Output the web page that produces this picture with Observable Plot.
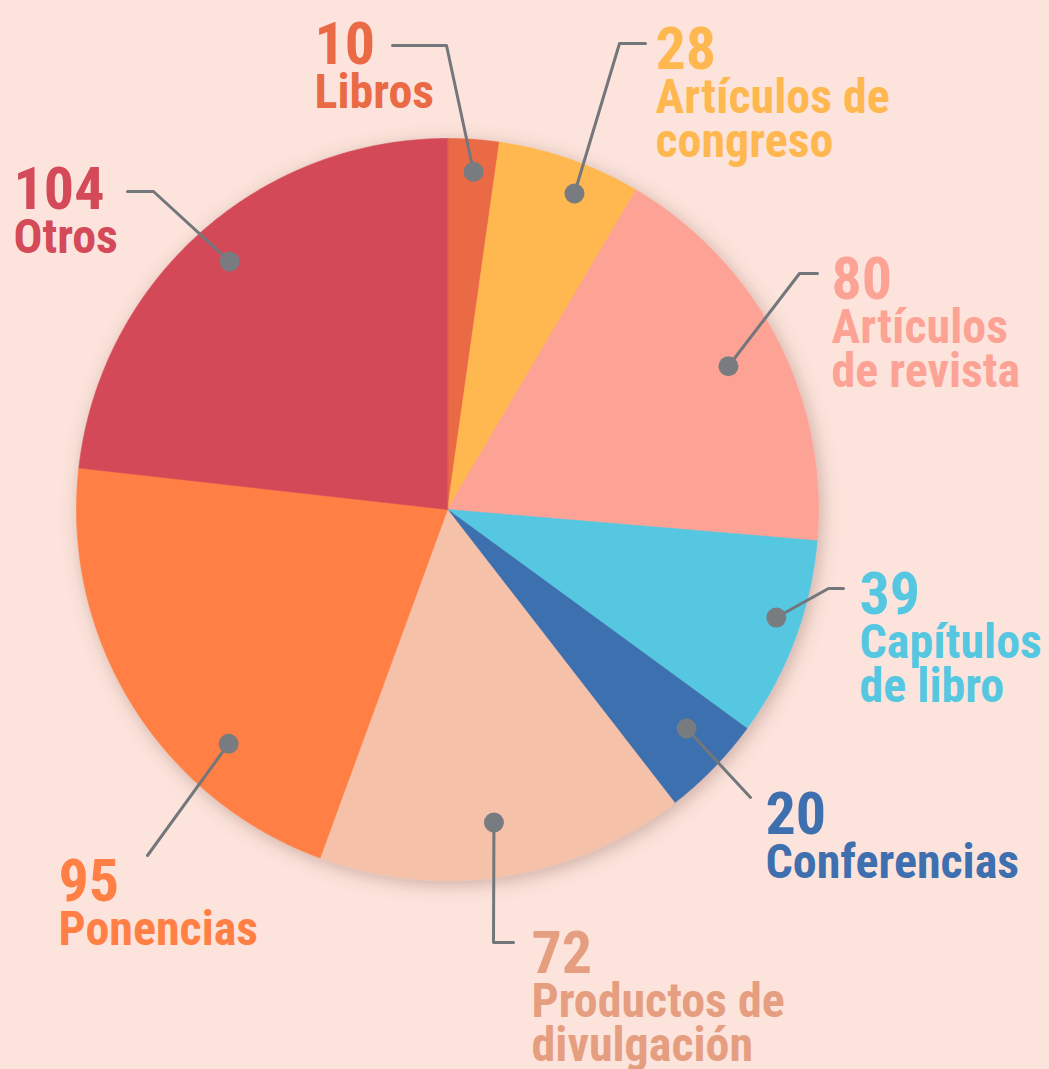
<!DOCTYPE html>
<html>
<head>
<meta charset="utf-8">
<script src="https://cdn.jsdelivr.net/npm/d3@7"></script>
<script src="https://cdn.jsdelivr.net/npm/@observablehq/plot@0.6"></script>
<style>
  html, body { margin: 0; padding: 0; background: #FCE4DC; }
  #chart { width: 1049px; height: 1069px; }
</style>
</head>
<body>
<div id="chart"></div>
<script>
// ---- data ----
const categories = ["Libros", "Artículos de congreso", "Artículos de revista", "Capítulos de libro", "Conferencias", "Productos de divulgación", "Ponencias", "Otros"];
const values = [10, 28, 80, 39, 20, 72, 95, 104];
const sliceColors = ["#E96A45", "#FFB74F", "#FDA396", "#56C7E1", "#3E6FAE", "#F6C1A9", "#FF7F45", "#D44A58"];
const labelColors = ["#E96A45", "#FFB74F", "#FDA396", "#56C7E1", "#3E6FAE", "#E59E80", "#FF7F45", "#D44A58"];
const labelLines = ["Libros", "Artículos de\ncongreso", "Artículos\nde revista", "Capítulos\nde libro", "Conferencias", "Productos de\ndivulgación", "Ponencias", "Otros"];

// ---- layout (pixels) ----
const W = 1049, H = 1069, cx = 447, cy = 509, R = 371;
// per label: text left x, number baseline, dot angle offset (deg), dot radius fraction, leader elbow/end points
const labelLayout = [
  {tx: 314, ny: 63,  dOff: 0.4,   dr: 0.913, pts: [[446, 45], [392, 45]]},
  {tx: 655, ny: 68,  dOff: 2.6,   dr: 0.918, pts: [[619, 43], [645, 43]]},
  {tx: 831, ny: 298, dOff: 0.3,   dr: 0.85,  pts: [[799, 273], [817, 273]]},
  {tx: 859, ny: 613, dOff: -2.3,  dr: 0.933, pts: [[828, 588], [843, 588]]},
  {tx: 765, ny: 833, dOff: -1.7,  dr: 0.874, pts: [[750, 797]]},
  {tx: 531, ny: 972, dOff: 0.4,   dr: 0.853, pts: [[493, 942], [513, 942]]},
  {tx: 58,  ny: 900, dOff: -15.2, dr: 0.864, pts: [[147, 855]]},
  {tx: 13,  ny: 208, dOff: 0.5,   dr: 0.89,  pts: [[153, 191], [127, 191]]}
];

const arcs = d3.pie().sort(null).value(d => d)(values);

// slice polygons
const slicePts = [];
arcs.forEach((a, i) => {
  slicePts.push({cat: categories[i], color: sliceColors[i], x: cx, y: cy});
  const n = Math.max(2, Math.ceil((a.endAngle - a.startAngle) / (Math.PI / 360)));
  for (let k = 0; k <= n; k++) {
    const t = a.startAngle + (a.endAngle - a.startAngle) * k / n;
    slicePts.push({cat: categories[i], color: sliceColors[i], x: cx + R * Math.sin(t), y: cy - R * Math.cos(t)});
  }
});

// dots & leaders
const dots = [];
const leaders = [];
arcs.forEach((a, i) => {
  const L = labelLayout[i];
  const mid = (a.startAngle + a.endAngle) / 2 + L.dOff * Math.PI / 180;
  const dx = cx + R * L.dr * Math.sin(mid), dy = cy - R * L.dr * Math.cos(mid);
  dots.push({cat: categories[i], x: dx, y: dy});
  leaders.push({cat: categories[i], x: dx, y: dy});
  L.pts.forEach(p => leaders.push({cat: categories[i], x: p[0], y: p[1]}));
});

const numbers = categories.map((c, i) => ({cat: c, text: String(values[i]), color: labelColors[i], x: labelLayout[i].tx, y: labelLayout[i].ny}));
const names = categories.map((c, i) => {
  const nl = labelLines[i].split("\n").length;
  return {cat: c, text: labelLines[i], color: labelColors[i], x: labelLayout[i].tx, y: labelLayout[i].ny + 44 * nl};
});

const font = "'Liberation Sans Narrow', 'Roboto Condensed', 'DejaVu Sans Condensed', Roboto, sans-serif";

const chart = Plot.plot({
  width: W, height: H,
  margin: 0,
  style: {background: "#FCE4DC", overflow: "visible"},
  x: {domain: [0, W], range: [0, W], axis: null},
  y: {domain: [0, H], range: [0, H], axis: null},
  marks: [
    Plot.line(slicePts, {x: "x", y: "y", z: "cat", fill: "color", stroke: "color", strokeWidth: 0.6, curve: "linear-closed"}),
    Plot.line(leaders, {x: "x", y: "y", z: "cat", stroke: "#73777C", strokeWidth: 3, curve: "linear"}),
    Plot.dot(dots, {x: "x", y: "y", r: 10, fill: "#787C81", stroke: null}),
    Plot.text(numbers, {x: "x", y: "y", text: "text", fill: "color", textAnchor: "start", lineAnchor: "bottom", fontSize: 60, fontWeight: "bold", fontFamily: font}),
    Plot.text(names, {x: "x", y: "y", text: "text", fill: "color", textAnchor: "start", lineAnchor: "bottom", fontSize: 48, lineHeight: 44 / 48, fontWeight: "bold", fontFamily: font})
  ]
});

// soft shadow under the pie
const ns = "http://www.w3.org/2000/svg";
const defs = document.createElementNS(ns, "defs");
defs.innerHTML = '<filter id="pieShadow" x="-20%" y="-20%" width="140%" height="140%"><feDropShadow dx="3" dy="4" stdDeviation="9" flood-color="#7a4a3a" flood-opacity="0.35"/></filter>';
chart.insertBefore(defs, chart.firstChild);
const pieG = chart.querySelector('g[aria-label="line"]');
if (pieG) pieG.setAttribute("filter", "url(#pieShadow)");

document.getElementById("chart").appendChild(chart);
</script>
</body>
</html>
